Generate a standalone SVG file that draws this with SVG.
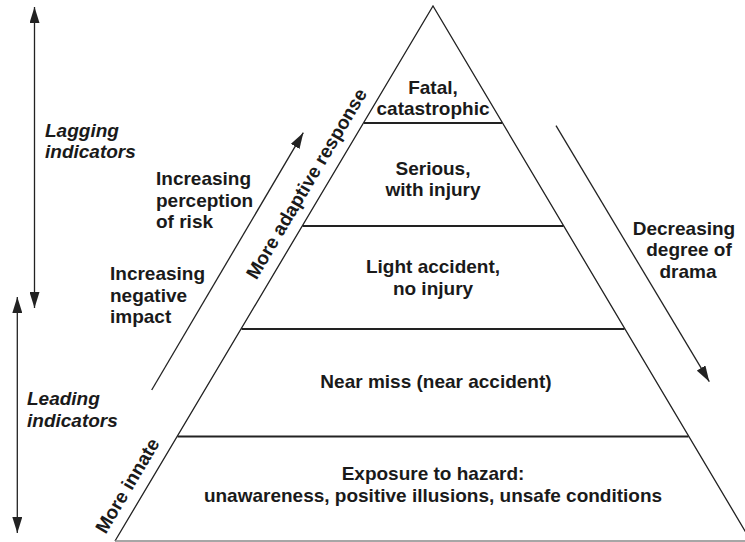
<svg xmlns="http://www.w3.org/2000/svg" width="745" height="542" viewBox="0 0 745 542">
<style>
text{font-family:"Liberation Sans",Arial,sans-serif;font-weight:bold;font-size:19px;fill:#1a1a1a}
.c{text-anchor:middle}
.it{font-style:italic}
.sep{stroke:#222;stroke-width:2;fill:none}
.edge{stroke:#222;stroke-width:1.3;fill:none}
.arr{stroke:#222;stroke-width:1.3;fill:none}
</style>
<defs>
<marker id="ah" viewBox="0 0 16 10" refX="16" refY="5" markerWidth="16" markerHeight="10" markerUnits="userSpaceOnUse" orient="auto-start-reverse">
<path d="M0,0 L16,5 L0,10 Z" fill="#222"/>
</marker>
</defs>
<rect width="745" height="542" fill="#fff"/>
<g id="pyramid">
<path class="edge" d="M115,541 L433,6 L751,541"/>
<line x1="115" y1="541" x2="745" y2="541" stroke="#888" stroke-width="1.6"/>
</g>
<g id="fatal">
<line class="sep" x1="364" y1="123" x2="502" y2="123"/>
<text class="c" x="433" y="94">Fatal,</text>
<text class="c" x="433" y="115">catastrophic</text>
</g>
<g id="serious">
<line class="sep" x1="302.5" y1="226" x2="563.5" y2="226"/>
<text class="c" x="433" y="175">Serious,</text>
<text class="c" x="433" y="196">with injury</text>
</g>
<g id="light">
<line class="sep" x1="241.5" y1="329" x2="624.5" y2="329"/>
<text class="c" x="433" y="273">Light accident,</text>
<text class="c" x="433" y="295">no injury</text>
</g>
<g id="nearmiss">
<line class="sep" x1="177.5" y1="436.5" x2="688.5" y2="436.5"/>
<text class="c" x="436" y="388">Near miss (near accident)</text>
</g>
<g id="exposure">
<text class="c" x="433" y="480">Exposure to hazard:</text>
<text class="c" x="433" y="502">unawareness, positive illusions, unsafe conditions</text>
</g>
<g id="lagging">
<text class="it" x="45" y="137">Lagging</text>
<text class="it" x="45" y="158">indicators</text>
</g>
<g id="leading">
<text class="it" x="27" y="405">Leading</text>
<text class="it" x="27" y="427">indicators</text>
</g>
<g id="perception">
<text x="156" y="185">Increasing</text>
<text x="156" y="207">perception</text>
<text x="156" y="228">of risk</text>
</g>
<g id="negative">
<text x="110" y="280">Increasing</text>
<text x="110" y="302">negative</text>
<text x="110" y="323">impact</text>
</g>
<g id="drama">
<text class="c" x="684" y="235">Decreasing</text>
<text class="c" x="689" y="256">degree of</text>
<text class="c" x="688" y="278">drama</text>
</g>
<g id="adaptive">
<text class="c" transform="translate(312,187) rotate(-59.3)" x="0" y="0">More adaptive response</text>
</g>
<g id="innate">
<text class="c" transform="translate(133,489) rotate(-59.3)" x="0" y="0">More innate</text>
</g>
<g id="connectors">
<line class="arr" x1="34.5" y1="7" x2="34.5" y2="308" marker-start="url(#ah)" marker-end="url(#ah)"/>
<line class="arr" x1="17.3" y1="297" x2="17.3" y2="533" marker-start="url(#ah)" marker-end="url(#ah)"/>
<line class="arr" x1="151.7" y1="390" x2="303.3" y2="132.7" marker-end="url(#ah)"/>
<line class="arr" x1="556" y1="125.7" x2="709.3" y2="381.7" marker-end="url(#ah)"/>
</g>
</svg>
